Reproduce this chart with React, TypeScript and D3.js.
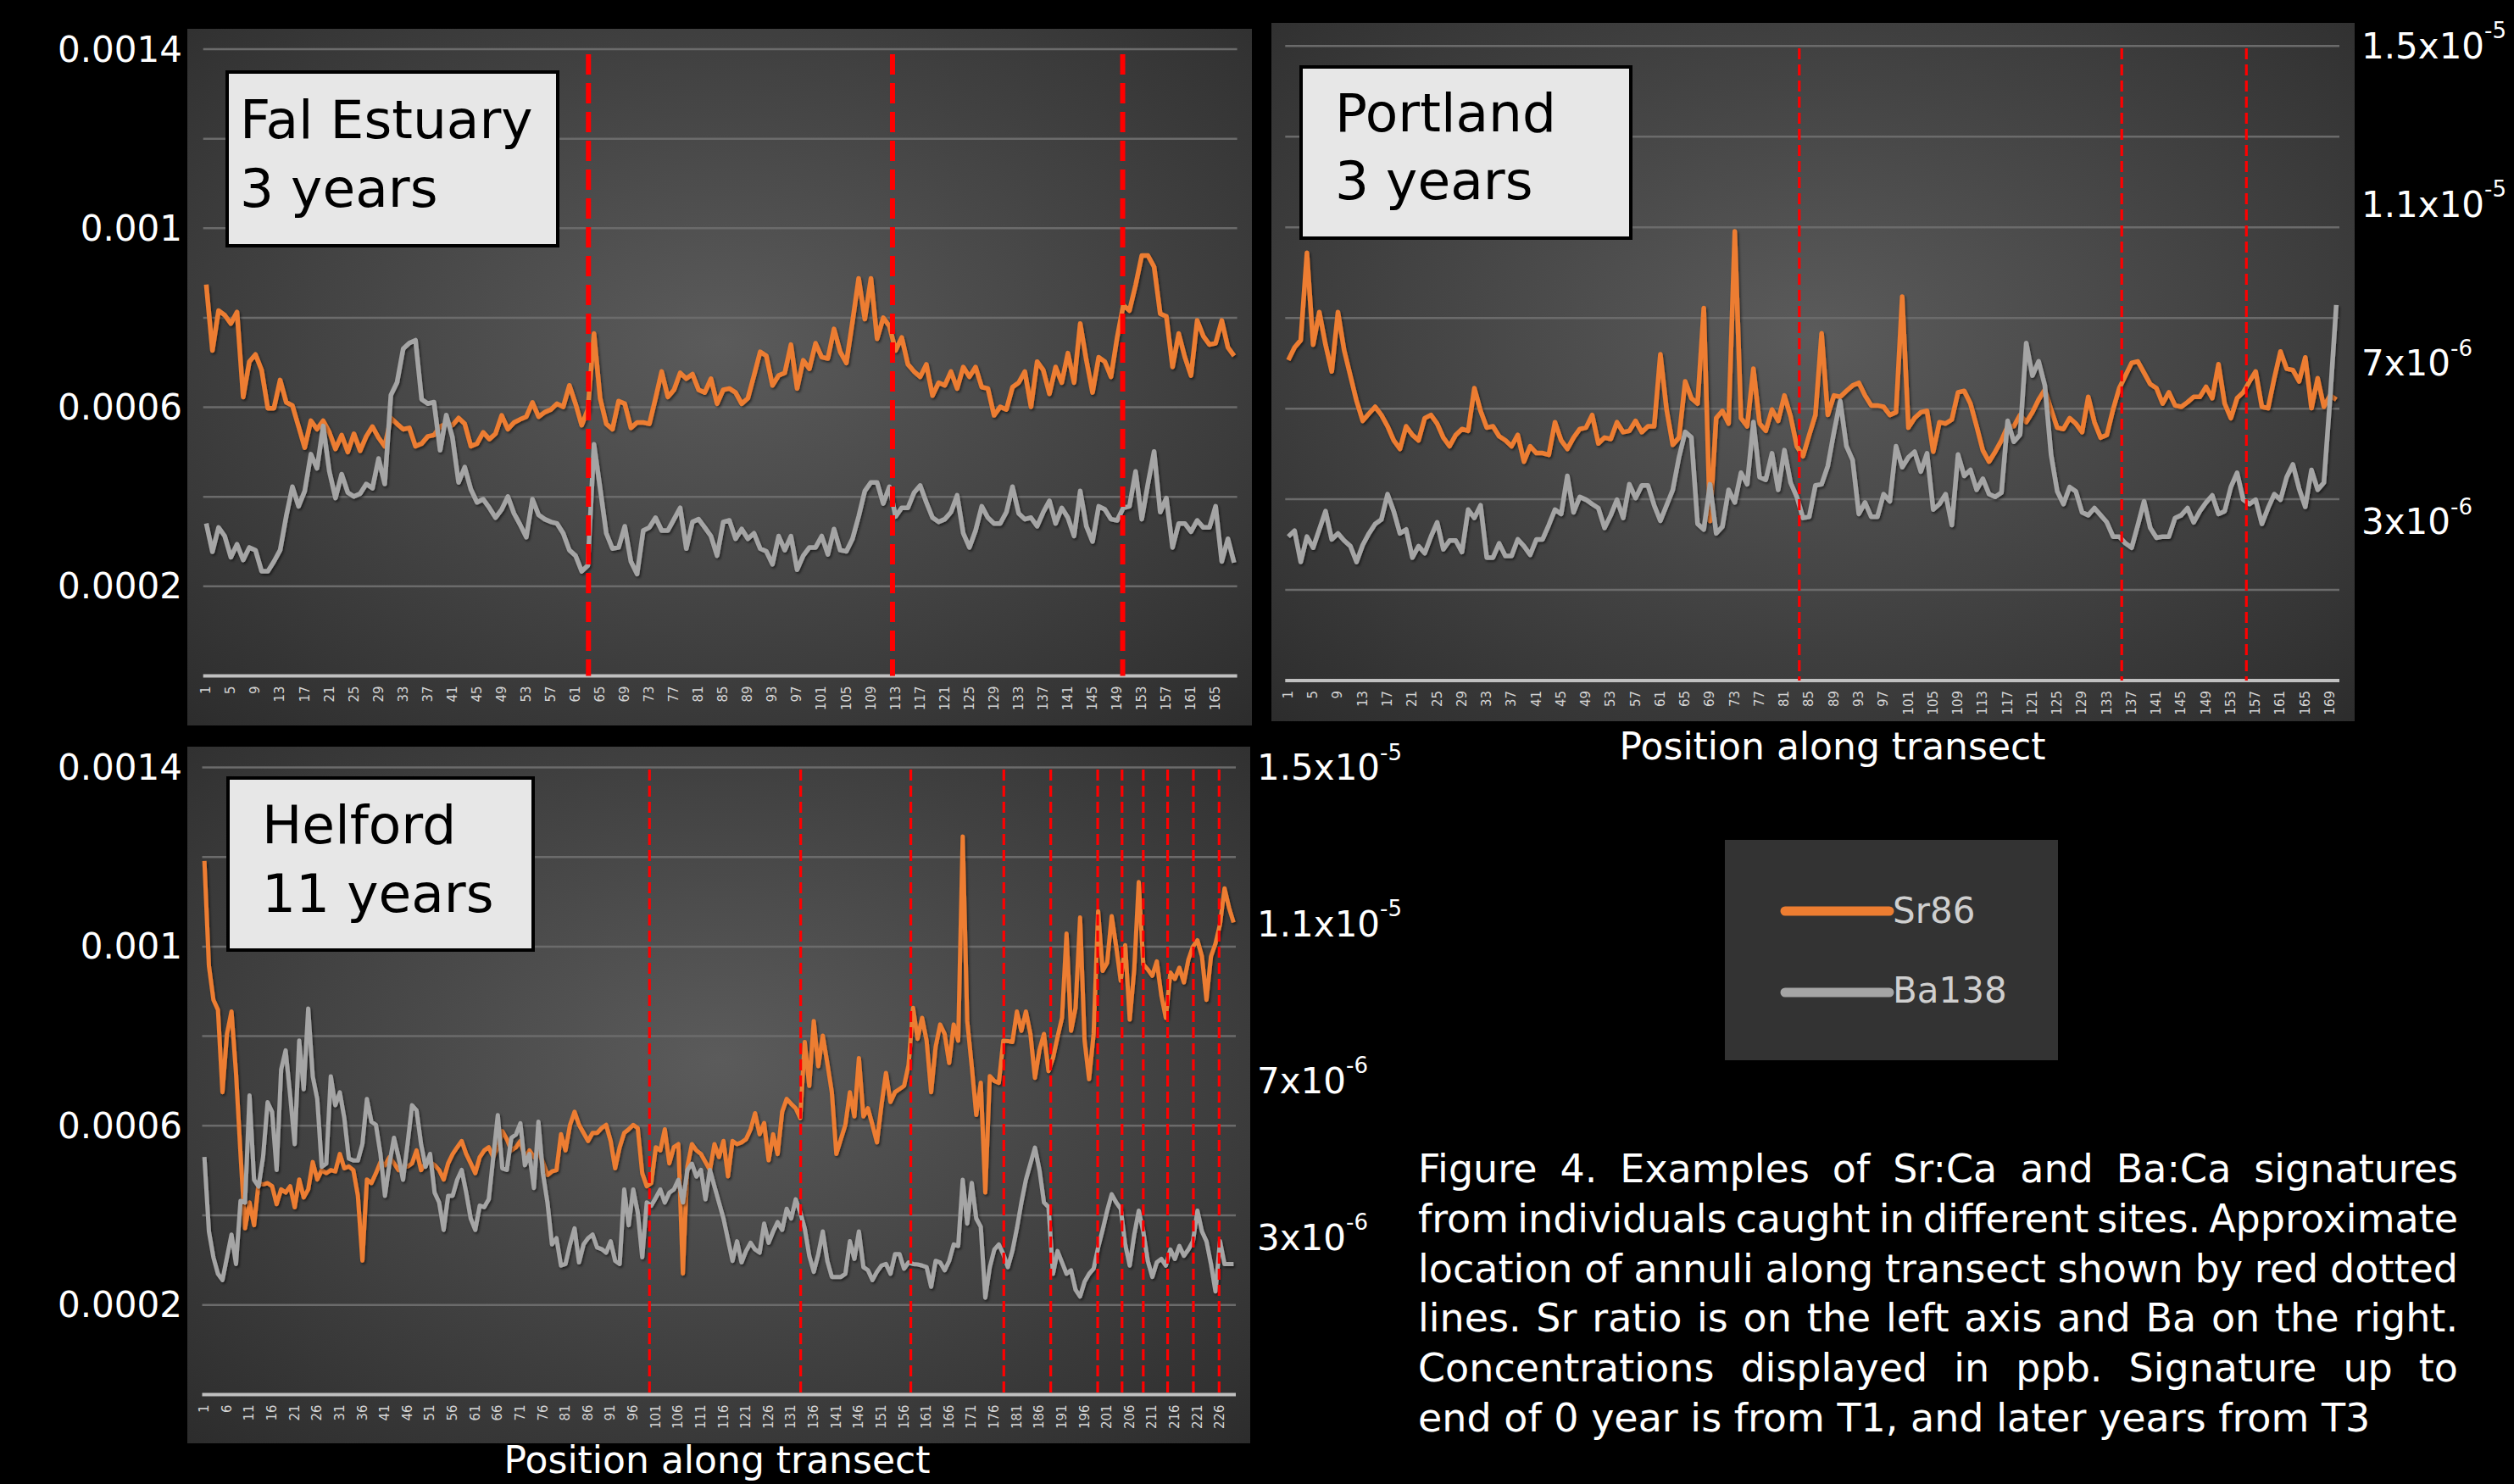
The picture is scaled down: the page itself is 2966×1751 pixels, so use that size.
import React, { useEffect, useRef } from 'react';
import * as d3 from 'd3';

// Sr:Ca values are in units of 1e-4, Ba:Ca values in units of 1e-6
const SR_UNIT = 1e-4;
const BA_UNIT = 1e-6;

const falSr = [
  8.74, 7.27, 8.16, 8.06, 7.87, 8.13, 6.23, 7.02, 7.18, 6.83,
  5.98, 5.98, 6.61, 6.11, 6.04, 5.57, 5.1, 5.7, 5.51, 5.7,
  5.44, 5.07, 5.38, 5.0, 5.41, 5.03, 5.35, 5.57, 5.32, 5.13,
  5.76, 5.63, 5.51, 5.54, 5.13, 5.19, 5.35, 5.38, 5.57, 5.63,
  5.6, 5.76, 5.63, 5.13, 5.19, 5.44, 5.29, 5.41, 5.82, 5.51,
  5.66, 5.73, 5.79, 6.11, 5.79, 5.89, 5.95, 6.08, 6.01, 6.49,
  6.08, 5.6, 5.95, 7.65, 6.2, 5.63, 5.51, 6.14, 6.08, 5.54,
  5.66, 5.66, 5.63, 6.2, 6.8, 6.23, 6.39, 6.77, 6.64, 6.74,
  6.39, 6.33, 6.64, 6.08, 6.39,
  6.42, 6.33, 6.08, 6.2, 6.71, 7.24, 7.15, 6.49, 6.71, 6.77,
  7.4, 6.42, 7.05, 6.86, 7.43, 7.12, 7.09, 7.75, 7.24, 6.99,
  7.91, 8.88, 7.97, 8.88, 7.53, 8.0, 7.81, 7.27, 7.56, 6.96,
  6.8, 6.68, 6.96, 6.26, 6.55, 6.49, 6.8, 6.42, 6.9, 6.68,
  6.9, 6.45, 6.42, 5.82, 6.01, 5.95, 6.45, 6.55, 6.8, 6.01,
  7.02, 6.83, 6.3, 6.9, 6.55, 7.21, 6.55, 7.87, 7.05, 6.33,
  7.12, 7.02, 6.68, 7.56, 8.28, 8.16, 8.73, 9.39, 9.39, 9.14,
  8.09, 8.03, 6.9, 7.65, 7.12, 6.71, 7.94, 7.59, 7.4, 7.43,
  7.94, 7.34, 7.15,
];
const falBa = [
  2.89, 2.17, 2.79, 2.57, 2.03, 2.36, 1.96, 2.28, 2.21, 1.67,
  1.67, 1.92, 2.21, 3.08, 3.83, 3.33, 3.72, 4.66, 4.3, 5.38,
  4.22, 3.54, 4.15, 3.68, 3.58, 3.65, 3.9, 3.79, 4.55, 3.9,
  6.17, 6.49, 7.35, 7.5, 7.57, 6.06, 5.95, 5.99, 4.76, 5.66,
  5.09, 3.94, 4.33, 3.76, 3.43, 3.51, 3.29, 3.04, 3.25, 3.58,
  3.15, 2.86, 2.54, 3.51, 3.11, 3.0, 2.93, 2.89, 2.64, 2.21,
  2.07, 1.67, 1.82, 4.91, 3.79, 2.64, 2.25, 2.28, 2.82, 1.92,
  1.6, 2.71, 2.79, 3.04, 2.71, 2.71, 3.0, 3.29, 2.25, 2.93,
  3.0, 2.79, 2.57, 2.07, 2.93,
  2.97, 2.5, 2.75, 2.5, 2.64, 2.25, 2.18, 1.85, 2.57, 2.21,
  2.57, 1.71, 2.07, 2.28, 2.28, 2.57, 2.1, 2.75, 2.21, 2.18,
  2.5, 3.07, 3.72, 3.94, 3.94, 3.4, 3.83, 3.07, 3.29, 3.29,
  3.68, 3.86, 3.43, 3.04, 2.93, 3.0, 3.18, 3.61, 2.64, 2.28,
  2.71, 3.33, 3.04, 2.89, 2.89, 3.18, 3.83, 3.15, 3.0, 3.04,
  2.82, 3.18, 3.47, 2.89, 3.29, 3.04, 2.57, 3.72, 2.82, 2.43,
  3.33, 3.25, 3.0, 2.97, 3.29, 3.33, 4.22, 3.0, 3.9, 4.73,
  3.18, 3.54, 2.28, 2.89, 2.89, 2.68, 2.97, 2.79, 2.79, 3.33,
  1.92, 2.5, 1.89,
];
const falAnnuli = [63.1, 112.5, 149.9];

const portSr = [
  7.07, 7.35, 7.51, 9.44, 7.41, 8.13, 7.41, 6.82, 8.13, 7.29,
  6.73, 6.17, 5.73, 5.89, 6.04, 5.86, 5.61, 5.3, 5.11, 5.61,
  5.42, 5.3, 5.79, 5.86, 5.67, 5.36, 5.17, 5.42, 5.55, 5.51,
  6.45, 5.95, 5.58, 5.61, 5.39, 5.3, 5.17, 5.42, 4.83, 5.17,
  5.02, 5.02, 4.98, 5.7, 5.3, 5.11, 5.36, 5.55, 5.58, 5.86,
  5.23, 5.36, 5.33, 5.7, 5.48, 5.51, 5.73, 5.48, 5.61, 5.61,
  7.2, 5.98, 5.2, 5.36, 6.6, 6.23, 6.11, 8.22, 3.52, 5.79,
  5.95, 5.67, 9.91, 5.79, 5.61, 6.88, 5.67, 5.51, 5.98, 5.73,
  6.29, 5.83, 5.17, 4.95, 5.42,
  5.86, 7.66, 5.86, 6.29, 6.26, 6.39, 6.51, 6.57, 6.29, 6.07,
  6.07, 6.04, 5.86, 5.92, 8.47, 5.58, 5.79, 5.92, 5.95, 5.05,
  5.7, 5.67, 5.76, 6.36, 6.39, 6.11, 5.61, 5.08, 4.83, 5.05,
  5.3, 5.61, 5.61, 5.86, 5.7, 5.92, 6.2, 6.42, 5.98, 5.58,
  5.55, 5.79, 5.67, 5.48, 6.26, 5.7, 5.36, 5.42, 5.98, 6.45,
  6.73, 7.01, 7.04, 6.79, 6.54, 6.45, 6.11, 6.36, 6.07, 6.04,
  6.14, 6.26, 6.26, 6.48, 6.23, 6.98, 6.11, 5.79, 6.23, 6.36,
  6.6, 6.82, 6.04, 6.01, 6.67, 7.26, 6.88, 6.85, 6.6, 7.13,
  6.01, 6.67, 6.04, 6.29, 6.2,
];
const portBa = [
  2.63, 2.78, 1.99, 2.63, 2.35, 2.81, 3.27, 2.56, 2.71, 2.53,
  2.39, 1.99, 2.42, 2.71, 2.95, 3.06, 3.7, 3.27, 2.71, 2.81,
  2.1, 2.39, 2.21, 2.63, 2.99, 2.31, 2.53, 2.53, 2.24, 3.31,
  3.1, 3.42, 2.1, 2.1, 2.46, 2.14, 2.14, 2.56, 2.39, 2.17,
  2.56, 2.56, 2.92, 3.31, 3.2, 4.16, 3.24, 3.63, 3.56, 3.45,
  3.35, 2.85, 3.17, 3.56, 3.1, 3.95, 3.6, 3.92, 3.92, 3.42,
  3.03, 3.42, 3.81, 4.63, 5.27, 5.13, 2.95, 2.81, 3.95, 2.71,
  2.88, 3.81, 3.49, 4.24, 3.95, 5.52, 4.13, 4.06, 4.73, 3.81,
  4.81, 3.99, 3.63, 3.1, 3.13,
  3.92, 3.95, 4.41, 5.27, 6.05, 4.91, 4.56, 3.2, 3.49, 3.13,
  3.13, 3.7, 3.52, 4.91, 4.38, 4.63, 4.77, 4.27, 4.73, 3.31,
  3.45, 3.7, 2.92, 4.7, 4.16, 4.31, 3.81, 4.09, 3.7, 3.63,
  3.74, 5.55, 5.02, 5.2, 7.51, 6.69, 7.05, 6.44, 4.7, 3.77,
  3.45, 3.88, 3.77, 3.24, 3.17, 3.35, 3.17, 2.99, 2.63, 2.63,
  2.46, 2.35, 2.92, 3.52, 2.85, 2.6, 2.63, 2.63, 3.1, 3.17,
  3.35, 2.99, 3.27, 3.49, 3.67, 3.2, 3.27, 3.88, 4.24, 3.56,
  3.45, 3.56, 2.95, 3.35, 3.7, 3.56, 4.13, 4.45, 3.84, 3.38,
  4.31, 3.81, 3.99, 6.12, 8.47,
];
const portAnnuli = [83.4, 135.4, 155.5];

const helSr = [
  11.91, 9.57, 8.81, 8.59, 6.75, 8.05, 8.55, 7.18, 5.37, 3.71,
  4.29, 3.78, 4.72, 4.69, 4.72, 4.65, 4.25, 4.58, 4.51, 4.65,
  4.18, 4.8, 4.4, 4.58, 5.19, 4.8, 5.01, 4.94, 5.01, 4.98,
  5.37, 5.05, 5.09, 5.01, 4.44, 2.99, 4.8, 4.72, 4.94, 5.19,
  5.12, 5.3, 5.16, 5.01, 5.09, 5.09, 5.16, 5.45, 5.01, 5.16,
  5.19, 5.12, 5.01, 4.8, 5.16, 5.37, 5.52, 5.66, 5.37, 5.16,
  4.94, 5.3, 5.45, 5.52, 5.3, 5.52, 5.88, 5.7, 5.45, 5.52,
  5.66, 5.3, 5.45, 5.3, 5.41, 5.19, 4.9, 4.98, 5.01, 5.81,
  5.45, 6.02, 6.31, 6.02, 5.84, 5.66, 5.84, 5.84, 5.95, 6.02,
  5.66, 5.05, 5.52, 5.84, 5.92, 6.02, 5.95, 4.94, 4.65, 4.72,
  5.52, 5.45, 5.92, 5.16, 5.52, 5.59, 2.7, 5.09, 5.59, 5.45,
  5.37, 5.19, 5.01, 5.59, 5.3, 5.66,
  4.87, 5.66, 5.59, 5.63, 5.7, 5.92, 6.28, 5.81, 6.06, 5.23,
  5.81, 5.37, 6.31, 6.6, 6.49, 6.39, 6.17, 7.87, 6.89, 8.34,
  7.33, 8.01, 7.4, 6.75, 5.37, 5.7, 6.02, 6.75, 6.21, 7.51,
  6.21, 6.39, 6.02, 5.63, 6.46, 7.18, 6.53, 6.75, 6.82, 6.89,
  7.36, 8.63, 7.94, 8.41, 7.9, 6.75, 7.76, 8.26, 8.05, 7.4,
  8.26, 7.9, 12.46, 8.34, 7.33, 6.24, 6.96, 4.51, 7.11, 7.0,
  6.96, 7.9, 7.89, 7.87, 8.55, 8.12, 8.55, 8.05, 7.07, 7.69,
  8.05, 7.22, 7.51, 7.98, 8.41, 10.29, 8.12, 8.63, 10.65, 7.9,
  7.04, 8.05, 10.79, 9.46, 9.64, 10.68, 10.0, 9.24, 10.03, 8.37,
  9.49, 11.44, 9.6, 9.49, 9.35, 9.67, 8.91, 8.41, 9.42, 9.28,
  9.53, 9.2, 9.71, 10.0, 10.14, 9.78, 8.81, 9.78, 10.07, 10.5,
  11.3, 10.87, 10.54,
];
const helBa = [
  5.06, 3.16, 2.5, 2.08, 1.92, 2.5, 3.08, 2.33, 3.94, 3.9,
  6.63, 4.48, 4.31, 5.06, 6.46, 6.21, 4.73, 7.29, 7.78, 6.63,
  5.39, 8.03, 6.79, 8.85, 7.12, 6.54, 4.81, 4.89, 7.12, 6.38,
  6.71, 6.05, 5.02, 4.97, 4.97, 5.39, 6.54, 5.96, 5.88, 5.14,
  4.07, 4.89, 5.55, 5.06, 4.48, 5.39, 6.38, 6.25, 5.39, 4.81,
  5.14, 4.15, 3.9, 3.2, 4.07, 4.07, 4.48, 4.73, 4.15, 3.49,
  3.2, 3.82, 3.78, 3.98, 5.06, 6.13, 4.77, 4.73, 5.55, 5.63,
  5.92, 4.85, 5.14, 4.27, 5.96, 4.64, 3.9, 2.83, 2.99, 2.29,
  2.33, 2.83, 3.24, 2.37, 2.83, 2.99, 3.08, 2.75, 2.71, 2.62,
  2.91, 2.41, 2.33, 4.23, 3.32, 4.23, 3.65, 2.5, 3.9, 3.82,
  4.02, 4.23, 3.9, 4.15, 4.23, 4.48, 3.9, 4.73, 4.89, 4.56,
  4.73, 3.98, 4.73, 4.31, 3.9, 3.49,
  2.95, 2.41, 2.91, 2.37, 2.66, 2.87, 2.7, 2.62, 3.36, 2.87,
  3.16, 3.4, 3.2, 3.74, 3.49, 3.98, 3.65, 3.24, 2.54, 2.13,
  2.58, 3.16, 2.41, 2.0, 2.0, 2.0, 2.08, 2.91, 2.46, 3.16,
  2.25, 2.17, 1.92, 2.13, 2.29, 2.33, 2.08, 2.58, 2.58, 2.21,
  2.37, 2.33, 2.32, 2.29, 2.25, 1.75, 2.41, 2.37, 2.17, 2.41,
  2.83, 2.79, 4.48, 3.36, 4.4, 3.49, 3.28, 1.47, 2.25, 2.7,
  2.83, 2.58, 2.25, 2.66, 3.24, 3.9, 4.48, 4.89, 5.3, 4.73,
  3.9, 3.78, 2.08, 2.66, 2.37, 2.08, 2.17, 1.67, 1.5, 1.88,
  2.08, 2.21, 2.75, 3.2, 3.69, 4.11, 3.9, 3.74, 2.83, 2.29,
  3.08, 3.69, 3.16, 2.41, 2.0, 2.37, 2.46, 2.29, 2.7, 2.46,
  2.79, 2.54, 2.7, 2.91, 3.69, 3.16, 2.91, 2.33, 1.63, 2.91,
  2.33, 2.33, 2.33,
];
const helAnnuli = [99.6, 133.1, 157.5, 178.1, 188.5, 198.9, 204.3, 209.0, 214.4, 220.1, 225.8];

const srGrid = [0.0002, 0.0004, 0.0006, 0.0008, 0.001, 0.0012, 0.0014];
const srTicks = [0.0014, 0.001, 0.0006, 0.0002];
const srTickLabels = ['0.0014', '0.001', '0.0006', '0.0002'];
const baTicks = [1.5e-5, 1.1e-5, 7e-6, 3e-6];
const baTickBase = ['1.5x10', '1.1x10', '7x10', '3x10'];
const baTickExp = ['-5', '-5', '-6', '-6'];

const legendNames = ['Sr86', 'Ba138'];
const captionLines = [
  'Figure 4. Examples of Sr:Ca and Ba:Ca signatures',
  'from individuals caught in different sites. Approximate',
  'location of annuli along transect shown by red dotted',
  'lines. Sr ratio is on the left axis and Ba on the right.',
  'Concentrations displayed in ppb. Signature up to',
  'end of 0 year is from T1, and later years from T3',
];

const ORANGE = '#ED7D31';
const GRAY = '#A5A5A5';
const FONT = 'DejaVu Sans, Verdana, sans-serif';
const CAPTION_X = 1673;
const CAPTION_W = 1227;

const panels = [
  {
    id: 'fal', sr: falSr, ba: falBa, annuli: falAnnuli,
    bx: 221, by: 34, bw: 1256, bh: 822,
    left: 239.7, right: 1459.6, top: 58, bottom: 797.5,
    step: 4, title: ['Fal Estuary', '3 years'],
    tb: { x: 268, y: 85, w: 390, h: 205, tx: 283, ty: [163, 244] },
    leftAxis: true, rightX: null as number | null,
    dashW: 6, dash: '24 10', dashTop: 64, lineW: 5.5,
  },
  {
    id: 'port', sr: portSr, ba: portBa, annuli: portAnnuli,
    bx: 1500, by: 27, bw: 1278, bh: 824,
    left: 1516.3, right: 2760, top: 54.3, bottom: 803,
    step: 4, title: ['Portland', '3 years'],
    tb: { x: 1535, y: 79, w: 389, h: 202, tx: 1575, ty: [155, 235] },
    leftAxis: false, rightX: 2786 as number | null,
    dashW: 3.2, dash: '13 6', dashTop: 57, lineW: 5.5,
  },
  {
    id: 'hel', sr: helSr, ba: helBa, annuli: helAnnuli,
    bx: 221, by: 881, bw: 1254, bh: 822,
    left: 238.5, right: 1458, top: 905.5, bottom: 1645.4,
    step: 5, title: ['Helford', '11 years'],
    tb: { x: 269, y: 918, w: 360, h: 203, tx: 309, ty: [995, 1076] },
    leftAxis: true, rightX: 1483 as number | null,
    dashW: 3.2, dash: '13 6', dashTop: 908, lineW: 5,
  },
];

function Panel({ p }: { p: any }) {
  const n = p.sr.length;
  const x = d3.scaleLinear().domain([0.5, n + 0.5]).range([p.left, p.right]);
  const ySr = d3.scaleLinear().domain([0, 0.0014]).range([p.bottom, p.top]);
  const yBa = d3.scaleLinear().domain([-1e-6, 1.5e-5]).range([p.bottom, p.top]);
  const srLine = d3.line<number>().x((d, i) => x(i + 1)).y(d => ySr(d * SR_UNIT));
  const baLine = d3.line<number>().x((d, i) => x(i + 1)).y(d => yBa(d * BA_UNIT));
  const labels = d3.range(1, n + 1, p.step);

  return (
    <g>
      <rect x={p.bx} y={p.by} width={p.bw} height={p.bh} fill="url(#panelBg)" />
      {srGrid.map(v => (
        <line key={v} x1={p.left} x2={p.right} y1={ySr(v)} y2={ySr(v)} stroke="#6b6b6b" strokeWidth={2.5} />
      ))}
      <line x1={p.left} x2={p.right} y1={ySr(0)} y2={ySr(0)} stroke="#c0c0c0" strokeWidth={4} />
      {labels.map(i => (
        <text key={i} transform={`translate(${x(i)},${ySr(0) + 12}) rotate(-90)`}
          textAnchor="end" dominantBaseline="central" fontSize={15} fill="#d4d4d4">{i}</text>
      ))}
      <path d={srLine(p.sr) || ''} fill="none" stroke={ORANGE} strokeWidth={p.lineW}
        strokeLinejoin="round" filter="url(#shadow)" />
      <path d={baLine(p.ba) || ''} fill="none" stroke={GRAY} strokeWidth={p.lineW}
        strokeLinejoin="round" filter="url(#shadow)" />
      {p.annuli.map((a: number) => (
        <line key={a} x1={x(a)} x2={x(a)} y1={p.dashTop} y2={ySr(0)}
          stroke="#ff0000" strokeWidth={p.dashW} strokeDasharray={p.dash} />
      ))}
      <rect x={p.tb.x} y={p.tb.y} width={p.tb.w} height={p.tb.h} fill="#e7e7e7" stroke="#000" strokeWidth={4} />
      {p.title.map((t: string, k: number) => (
        <text key={t} x={p.tb.tx} y={p.tb.ty[k]} fontSize={63} fill="#000">{t}</text>
      ))}
      {p.leftAxis && srTicks.map((v, k) => (
        <text key={v} x={215} y={ySr(v)} textAnchor="end" dominantBaseline="central"
          fontSize={42} fill="#fff">{srTickLabels[k]}</text>
      ))}
      {p.rightX !== null && baTicks.map((v, k) => (
        <text key={v} x={p.rightX} y={yBa(v)} dominantBaseline="central" fontSize={42} fill="#fff">
          {baTickBase[k]}<tspan dy={-18} fontSize={26}>{baTickExp[k]}</tspan>
        </text>
      ))}
    </g>
  );
}

export default function App() {
  const svgRef = useRef<SVGSVGElement>(null);

  useEffect(() => {
    // justify caption lines by spreading the words
    d3.select(svgRef.current).selectAll<SVGTextElement, unknown>('text.justify').each(function () {
      const t = d3.select(this).attr('word-spacing', 0);
      const len = this.getComputedTextLength();
      const gaps = (this.textContent || '').split(' ').length - 1;
      t.attr('word-spacing', (CAPTION_W - len) / gaps);
    });
  }, []);

  return (
    <svg ref={svgRef} width={2966} height={1751} fontFamily={FONT}
      style={{ position: 'absolute', left: 0, top: 0, display: 'block' }}>
      <defs>
        <radialGradient id="panelBg" cx="50%" cy="45%" r="75%">
          <stop offset="0%" stopColor="#5b5b5b" />
          <stop offset="100%" stopColor="#2c2c2c" />
        </radialGradient>
        <filter id="shadow" x="-5%" y="-5%" width="110%" height="110%">
          <feDropShadow dx={1.5} dy={2} stdDeviation={1.5} floodColor="#000" floodOpacity={0.55} />
        </filter>
      </defs>
      <rect width={2966} height={1751} fill="#000" />
      {panels.map(p => <Panel key={p.id} p={p} />)}

      <text x={2162} y={896} textAnchor="middle" fontSize={44} fill="#fff">Position along transect</text>
      <text x={846} y={1738} textAnchor="middle" fontSize={44} fill="#fff">Position along transect</text>

      <rect x={2035} y={991} width={393} height={260} fill="#333" />
      {legendNames.map((name, k) => (
        <g key={name}>
          <line x1={2106} x2={2229} y1={1075 + k * 96} y2={1075 + k * 96}
            stroke={k === 0 ? ORANGE : GRAY} strokeWidth={11} strokeLinecap="round" />
          <text x={2233} y={1089 + k * 94} fontSize={42} fill="#cfcfcf">{name}</text>
        </g>
      ))}

      {captionLines.map((line, k) => (
        <text key={k} className={k < captionLines.length - 1 ? 'justify' : ''}
          x={CAPTION_X} y={1395 + k * 58.8} fontSize={46} fill="#fff">{line}</text>
      ))}
    </svg>
  );
}
